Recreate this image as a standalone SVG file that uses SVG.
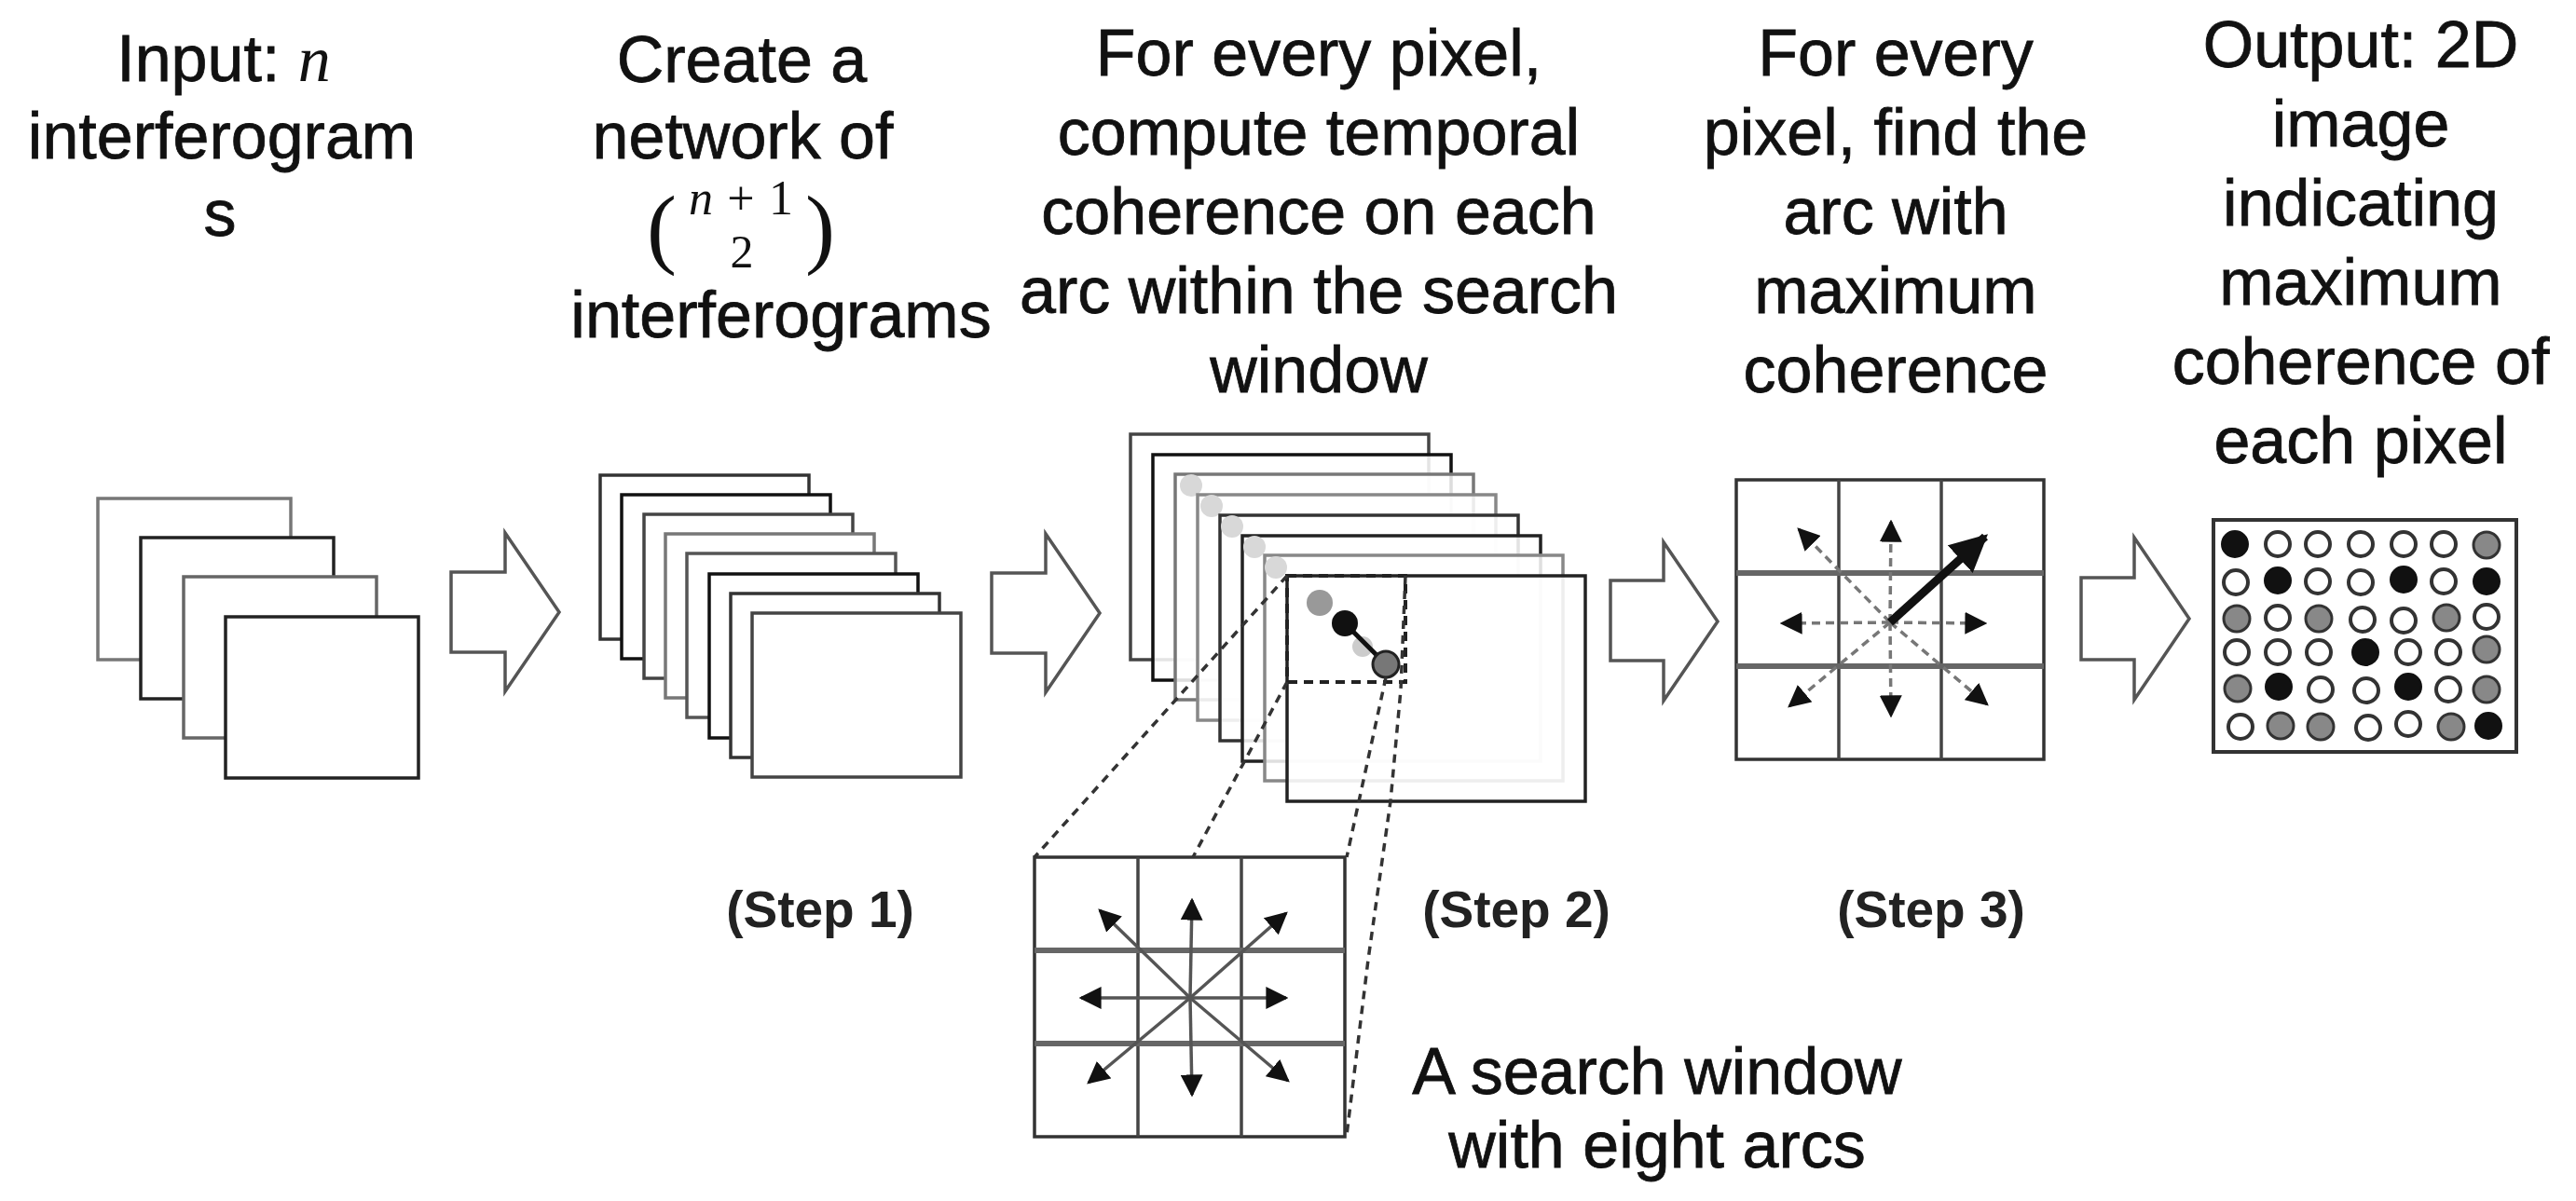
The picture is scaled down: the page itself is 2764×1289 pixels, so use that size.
<svg xmlns="http://www.w3.org/2000/svg" width="2764" height="1289" viewBox="0 0 2764 1289">
<defs>
<style>
.t{font-family:"Liberation Sans",Arial,sans-serif;font-size:70px;fill:#111;stroke:#111;stroke-width:0.8px;text-anchor:middle}
.s{font-family:"Liberation Sans",Arial,sans-serif;font-size:55px;font-weight:bold;fill:#222;text-anchor:middle}
.m{font-family:"Liberation Serif","Times New Roman",serif;fill:#111;stroke:none}
.pg{fill:#fff;stroke-width:3.5}
.pg2{fill:#fff;fill-opacity:0.86;stroke-width:3.5}
.blk{fill:#fff;stroke:#555;stroke-width:3.5;stroke-linejoin:miter}
.proj{fill:none;stroke:#333;stroke-width:3.5;stroke-dasharray:9 7}
.arc{stroke:#555;stroke-width:3.5;fill:none;marker-end:url(#ah)}
.darc{stroke:#777;stroke-width:3.5;fill:none;stroke-dasharray:9 6;marker-end:url(#ah)}
.gb{fill:none;stroke:#333;stroke-width:3.5}
.gv{stroke:#444;stroke-width:3.5}
.gh{stroke:#666;stroke-width:6}
.w{fill:#fff;stroke:#333;stroke-width:4}
.g{fill:#888;stroke:#333;stroke-width:3}
.b{fill:#111;stroke:#111;stroke-width:2}
</style>
<marker id="ah" viewBox="0 0 10 10" refX="9" refY="5" markerWidth="24" markerHeight="24" markerUnits="userSpaceOnUse" orient="auto">
<path d="M0,0 L10,5 L0,10 z" fill="#111"/>
</marker>
<marker id="ahb" viewBox="0 0 10 10" refX="9" refY="5" markerWidth="40" markerHeight="40" markerUnits="userSpaceOnUse" orient="auto">
<path d="M0,0 L10,5 L0,10 z" fill="#111"/>
</marker>
</defs>
<rect width="2764" height="1289" fill="#fff"/>

<g id="title-input">
<text class="t" x="240" y="87">Input: <tspan class="m" font-style="italic">n</tspan></text>
<text class="t" x="238" y="170">interferogram</text>
<text class="t" x="236" y="253">s</text>
</g>

<g id="title-step1">
<text class="t" x="796" y="88">Create a</text>
<text class="t" x="797" y="170">network of</text>
<text class="m" x="694" y="276" font-size="96">(</text>
<text class="m" x="795" y="230" font-size="52" text-anchor="middle" textLength="112" lengthAdjust="spacing"><tspan font-style="italic">n</tspan>+1</text>
<text class="m" x="796" y="287" font-size="50" text-anchor="middle">2</text>
<text class="m" x="864" y="276" font-size="96">)</text>
<text class="t" x="838" y="362">interferograms</text>
</g>

<g id="title-step2">
<text class="t" x="1415" y="81">For every pixel,</text>
<text class="t" x="1415" y="166">compute temporal</text>
<text class="t" x="1415" y="251">coherence on each</text>
<text class="t" x="1415" y="336">arc within the search</text>
<text class="t" x="1415" y="421">window</text>
</g>

<g id="title-step3">
<text class="t" x="2034" y="81">For every</text>
<text class="t" x="2034" y="166">pixel, find the</text>
<text class="t" x="2034" y="251">arc with</text>
<text class="t" x="2034" y="336">maximum</text>
<text class="t" x="2034" y="421">coherence</text>
</g>

<g id="title-output">
<text class="t" x="2533" y="72">Output: 2D</text>
<text class="t" x="2533" y="157">image</text>
<text class="t" x="2533" y="242">indicating</text>
<text class="t" x="2533" y="327">maximum</text>
<text class="t" x="2533" y="412">coherence of</text>
<text class="t" x="2533" y="497">each pixel</text>
</g>

<g id="input-stack">
<rect class="pg" x="105" y="535" width="207" height="173" stroke="#777"/>
<rect class="pg" x="151" y="577" width="207" height="173" stroke="#222"/>
<rect class="pg" x="197" y="619" width="207" height="173" stroke="#666"/>
<rect class="pg" x="242" y="662" width="207" height="173" stroke="#222"/>
</g>

<g id="step1-stack">
<rect class="pg" x="644" y="510" width="224" height="176" stroke="#333"/>
<rect class="pg" x="667" y="531" width="224" height="176" stroke="#111"/>
<rect class="pg" x="691" y="552" width="224" height="176" stroke="#444"/>
<rect class="pg" x="714" y="573" width="224" height="176" stroke="#777"/>
<rect class="pg" x="737" y="594" width="224" height="176" stroke="#555"/>
<rect class="pg" x="761" y="616" width="224" height="176" stroke="#111"/>
<rect class="pg" x="784" y="637" width="224" height="176" stroke="#333"/>
<rect class="pg" x="807" y="658" width="224" height="176" stroke="#444"/>
</g>

<g id="step2-stack">
<rect class="pg2" x="1213" y="466" width="320" height="242" stroke="#444"/>
<rect class="pg2" x="1237" y="488" width="320" height="242" stroke="#111"/>
<rect class="pg2" x="1261" y="509" width="320" height="242" stroke="#777"/>
<circle cx="1278" cy="521" r="12" fill="#d8d8d8"/>
<rect class="pg2" x="1285" y="531" width="320" height="242" stroke="#888"/>
<circle cx="1300" cy="543" r="12" fill="#d8d8d8"/>
<rect class="pg2" x="1309" y="553" width="320" height="242" stroke="#333"/>
<circle cx="1322" cy="565" r="12" fill="#d8d8d8"/>
<rect class="pg2" x="1333" y="575" width="320" height="242" stroke="#222"/>
<circle cx="1346" cy="587" r="12" fill="#d8d8d8"/>
<rect class="pg2" x="1357" y="596" width="320" height="242" stroke="#888"/>
<circle cx="1369" cy="609" r="12" fill="#d8d8d8"/>
<rect class="pg2" x="1381" y="618" width="320" height="242" stroke="#222"/>
<rect x="1381" y="618" width="127" height="114" fill="none" stroke="#222" stroke-width="4" stroke-dasharray="10 7"/>
<circle cx="1416" cy="647" r="14" fill="#999"/>
<circle cx="1462" cy="694" r="11" fill="#ccc"/>
<line x1="1443" y1="669" x2="1487" y2="713" stroke="#111" stroke-width="5"/>
<circle cx="1443" cy="669" r="14" fill="#111"/>
<circle cx="1487" cy="713" r="14" fill="#777" stroke="#222" stroke-width="3"/>
</g>

<g id="search-window">
<rect class="gb" x="1110" y="920" width="333" height="300"/>
<line class="gv" x1="1221" y1="920" x2="1221" y2="1220"/>
<line class="gv" x1="1332" y1="920" x2="1332" y2="1220"/>
<line class="gh" x1="1110" y1="1020" x2="1443" y2="1020"/>
<line class="gh" x1="1110" y1="1120" x2="1443" y2="1120"/>
<line class="arc" x1="1277" y1="1071" x2="1279" y2="966"/>
<line class="arc" x1="1277" y1="1071" x2="1279" y2="1175"/>
<line class="arc" x1="1277" y1="1071" x2="1160" y2="1071"/>
<line class="arc" x1="1277" y1="1071" x2="1380" y2="1071"/>
<line class="arc" x1="1277" y1="1071" x2="1180" y2="977"/>
<line class="arc" x1="1277" y1="1071" x2="1380" y2="980"/>
<line class="arc" x1="1277" y1="1071" x2="1168" y2="1162"/>
<line class="arc" x1="1277" y1="1071" x2="1382" y2="1160"/>
</g>

<g id="step3-grid">
<rect class="gb" x="1863" y="515" width="330" height="300"/>
<line class="gv" x1="1973" y1="515" x2="1973" y2="815"/>
<line class="gv" x1="2083" y1="515" x2="2083" y2="815"/>
<line class="gh" x1="1863" y1="615" x2="2193" y2="615"/>
<line class="gh" x1="1863" y1="715" x2="2193" y2="715"/>
<line class="darc" x1="2028" y1="668" x2="2029" y2="560"/>
<line class="darc" x1="2028" y1="668" x2="2029" y2="768"/>
<line class="darc" x1="2028" y1="668" x2="1912" y2="669"/>
<line class="darc" x1="2028" y1="668" x2="2130" y2="669"/>
<line class="darc" x1="2028" y1="668" x2="1930" y2="568"/>
<line class="darc" x1="2028" y1="668" x2="1920" y2="758"/>
<line class="darc" x1="2028" y1="668" x2="2132" y2="756"/>
<line x1="2028" y1="668" x2="2130" y2="576" stroke="#111" stroke-width="9" marker-end="url(#ahb)"/>
</g>

<g id="output-image">
<rect x="2375" y="558" width="325" height="249" fill="#fff" stroke="#333" stroke-width="4"/>
<circle class="b" cx="2398" cy="584" r="14"/><circle class="w" cx="2444" cy="584" r="13"/><circle class="w" cx="2487" cy="584" r="13"/><circle class="w" cx="2533" cy="584" r="13"/><circle class="w" cx="2579" cy="584" r="13"/><circle class="w" cx="2622" cy="584" r="13"/><circle class="g" cx="2668" cy="585" r="14"/>
<circle class="w" cx="2399" cy="625" r="13"/><circle class="b" cx="2444" cy="623" r="14"/><circle class="w" cx="2487" cy="624" r="13"/><circle class="w" cx="2533" cy="625" r="13"/><circle class="b" cx="2579" cy="622" r="14"/><circle class="w" cx="2622" cy="624" r="13"/><circle class="b" cx="2668" cy="624" r="14"/>
<circle class="g" cx="2400" cy="664" r="14"/><circle class="w" cx="2444" cy="663" r="13"/><circle class="g" cx="2488" cy="664" r="14"/><circle class="w" cx="2535" cy="665" r="13"/><circle class="w" cx="2579" cy="666" r="13"/><circle class="g" cx="2625" cy="663" r="14"/><circle class="w" cx="2668" cy="662" r="13"/>
<circle class="w" cx="2400" cy="700" r="13"/><circle class="w" cx="2444" cy="700" r="13"/><circle class="w" cx="2488" cy="700" r="13"/><circle class="b" cx="2538" cy="700" r="14"/><circle class="w" cx="2584" cy="700" r="13"/><circle class="w" cx="2627" cy="700" r="13"/><circle class="g" cx="2668" cy="697" r="14"/>
<circle class="g" cx="2401" cy="739" r="14"/><circle class="b" cx="2445" cy="737" r="14"/><circle class="w" cx="2490" cy="740" r="13"/><circle class="w" cx="2539" cy="741" r="13"/><circle class="b" cx="2584" cy="737" r="14"/><circle class="w" cx="2627" cy="740" r="13"/><circle class="g" cx="2668" cy="740" r="14"/>
<circle class="w" cx="2404" cy="780" r="13"/><circle class="g" cx="2447" cy="779" r="14"/><circle class="g" cx="2490" cy="780" r="14"/><circle class="w" cx="2541" cy="781" r="13"/><circle class="w" cx="2584" cy="777" r="13"/><circle class="g" cx="2630" cy="780" r="14"/><circle class="b" cx="2670" cy="779" r="14"/>
</g>

<g id="connectors">
<path class="blk" d="M484,614 H542 V572 L600,657 L542,742 V700 H484 Z"/>
<path class="blk" d="M1064,615 H1122 V573 L1180,658 L1122,743 V701 H1064 Z"/>
<path class="blk" d="M1728,623 H1785 V582 L1843,667 L1785,752 V709 H1728 Z"/>
<path class="blk" d="M2233,620 H2290 V577 L2349,664 L2290,751 V708 H2233 Z"/>
<line class="proj" x1="1381" y1="618" x2="1110" y2="920"/>
<line class="proj" x1="1381" y1="732" x2="1280" y2="920"/>
<line class="proj" x1="1487" y1="727" x2="1445" y2="920"/>
<polyline class="proj" points="1508,618 1503,740 1492,860 1468,1030 1445,1218"/>
</g>

<g id="step-labels">
<text class="s" x="880" y="995">(Step 1)</text>
<text class="s" x="1627" y="995">(Step 2)</text>
<text class="s" x="2072" y="995">(Step 3)</text>
</g>

<g id="search-caption">
<text class="t" x="1778" y="1174">A search window</text>
<text class="t" x="1778" y="1253">with eight arcs</text>
</g>
</svg>
